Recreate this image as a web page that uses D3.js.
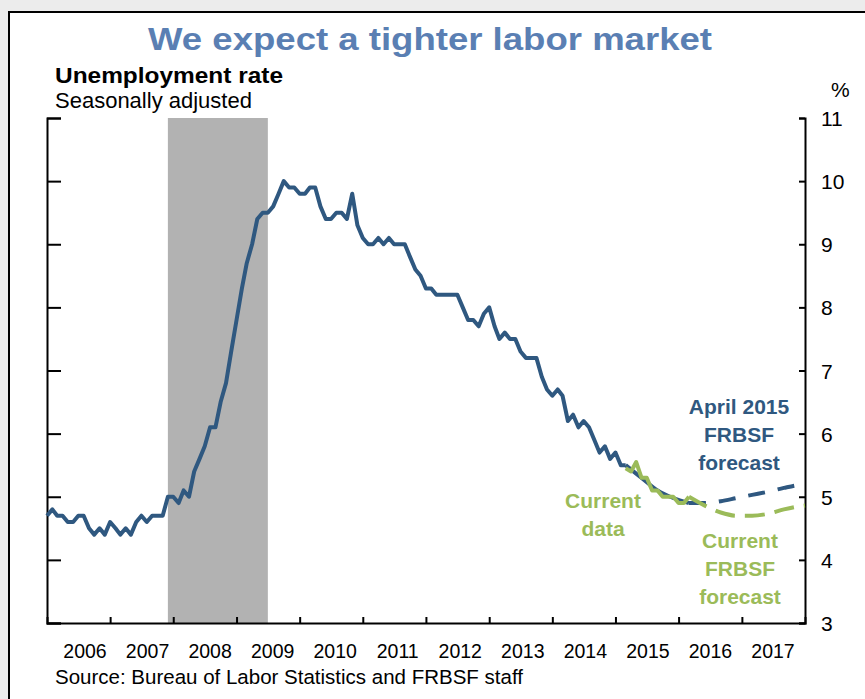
<!DOCTYPE html>
<html>
<head>
<meta charset="utf-8">
<title>We expect a tighter labor market</title>
<script src="https://d3js.org/d3.v7.min.js"></script>
<style>
  body { margin: 0; background: #ececec; }
  svg text { font-family: "Liberation Sans", Arial, sans-serif; }
</style>
</head>
<body>
<div id="chartDiv"></div>
<script>
// ---- data ----
var yearLabels = ["2006","2007","2008","2009","2010","2011","2012","2013","2014","2015","2016","2017"];
var yTicks = [3, 4, 5, 6, 7, 8, 9, 10, 11];

// monthly unemployment rate, Jan 2006 - Mar 2015 (data as of April 2015)
var histStart = "2006-01";
var histRate = [
  4.7, 4.8, 4.7, 4.7, 4.6, 4.6, 4.7, 4.7, 4.5, 4.4, 4.5, 4.4,
  4.6, 4.5, 4.4, 4.5, 4.4, 4.6, 4.7, 4.6, 4.7, 4.7, 4.7, 5.0,
  5.0, 4.9, 5.1, 5.0, 5.4, 5.6, 5.8, 6.1, 6.1, 6.5, 6.8, 7.3,
  7.8, 8.3, 8.7, 9.0, 9.4, 9.5, 9.5, 9.6, 9.8, 10.0, 9.9, 9.9,
  9.8, 9.8, 9.9, 9.9, 9.6, 9.4, 9.4, 9.5, 9.5, 9.4, 9.8, 9.3,
  9.1, 9.0, 9.0, 9.1, 9.0, 9.1, 9.0, 9.0, 9.0, 8.8, 8.6, 8.5,
  8.3, 8.3, 8.2, 8.2, 8.2, 8.2, 8.2, 8.0, 7.8, 7.8, 7.7, 7.9,
  8.0, 7.7, 7.5, 7.6, 7.5, 7.5, 7.3, 7.2, 7.2, 7.2, 6.9, 6.7,
  6.6, 6.7, 6.6, 6.2, 6.3, 6.1, 6.2, 6.1, 5.9, 5.7, 5.8, 5.6,
  5.7, 5.5, 5.5
];

// current data, Mar 2015 - Mar 2016
var currentStart = "2015-03";
var currentRate = [5.45, 5.4, 5.55, 5.3, 5.3, 5.1, 5.1, 5.0, 5.0, 5.0, 4.9, 4.9, 5.0];

// April 2015 FRBSF forecast
var aprilDates = ["2015-03","2015-06","2015-09","2015-12","2016-03","2016-06","2016-09","2016-12","2017-03","2017-06","2017-09","2017-12","2018-01"];
var aprilRate  = [5.5, 5.3, 5.1, 4.98, 4.9, 4.9, 4.93, 4.98, 5.03, 5.08, 5.14, 5.19, 5.2];
var aprilDashFrom = "2016-03";

// current FRBSF forecast
var currentFcstDates = ["2016-03","2016-06","2016-09","2016-12","2017-03","2017-06","2017-09","2017-12","2018-01"];
var currentFcstRate  = [5.0, 4.86, 4.75, 4.7, 4.7, 4.73, 4.8, 4.85, 4.86];

// recession shading
var recession = ["2007-12", "2009-07"];

// ---- layout ----
var W = 865, H = 699;
var plot = {left: 47, right: 805, top: 118, bottom: 623};
var blue = "#2f5880", green = "#9bbb59";

var parseMonth = d3.timeParse("%Y-%m");

var svg = d3.select("#chartDiv").append("svg")
  .attr("width", W).attr("height", H);

// slide frame
svg.append("rect").attr("width", W).attr("height", H).attr("fill", "#ececec");
svg.append("rect")
  .attr("x", 9).attr("y", 12).attr("width", W + 10).attr("height", H)
  .attr("fill", "#fff").attr("stroke", "#000").attr("stroke-width", 2);

var x = d3.scaleTime()
  .domain([parseMonth("2006-01"), parseMonth("2018-01")])
  .range([plot.left, plot.right]);

var y = d3.scaleLinear()
  .domain([3, 11])
  .range([plot.bottom, plot.top]);

// titles
svg.append("text")
  .attr("x", 148).attr("y", 50)
  .attr("textLength", 564).attr("lengthAdjust", "spacingAndGlyphs")
  .style("font-size", "32px").style("font-weight", "bold")
  .style("fill", "#5a7fb3")
  .text("We expect a tighter labor market");

svg.append("text")
  .attr("x", 55).attr("y", 83)
  .attr("textLength", 228).attr("lengthAdjust", "spacingAndGlyphs")
  .style("font-size", "22px").style("font-weight", "bold")
  .text("Unemployment rate");

svg.append("text")
  .attr("x", 55).attr("y", 108)
  .style("font-size", "22px")
  .text("Seasonally adjusted");

svg.append("text")
  .attr("x", 831).attr("y", 97)
  .style("font-size", "21px")
  .text("%");

// recession band
svg.append("rect")
  .attr("x", x(parseMonth(recession[0])))
  .attr("y", plot.top)
  .attr("width", x(parseMonth(recession[1])) - x(parseMonth(recession[0])))
  .attr("height", plot.bottom - plot.top)
  .attr("fill", "#b2b2b2");

// axes
var leftAxis = d3.axisRight(y).tickValues(yTicks).tickSize(14).tickFormat("");
svg.append("g")
  .attr("transform", "translate(" + plot.left + ",0)")
  .call(leftAxis)
  .call(function(g) {
    g.select(".domain").attr("stroke-width", 2);
    g.selectAll(".tick line").attr("stroke-width", 2);
  });

var rightAxis = d3.axisLeft(y).tickValues(yTicks).tickSize(6).tickFormat("");
svg.append("g")
  .attr("transform", "translate(" + plot.right + ",0)")
  .call(rightAxis)
  .call(function(g) {
    g.select(".domain").attr("stroke-width", 2);
    g.selectAll(".tick line").attr("stroke-width", 2);
  });

// right axis labels
svg.append("g").selectAll("text")
  .data(yTicks)
  .enter().append("text")
  .attr("x", 821)
  .attr("y", function(d) { return y(d) + 8; })
  .style("font-size", "21px")
  .text(function(d) { return d; });

var yearTicks = yearLabels.slice(1).map(function(d) { return parseMonth(d + "-01"); });
var bottomAxis = d3.axisTop(x).tickValues(yearTicks).tickSize(6).tickFormat("");
svg.append("g")
  .attr("transform", "translate(0," + plot.bottom + ")")
  .call(bottomAxis)
  .call(function(g) {
    g.select(".domain").attr("stroke-width", 2);
    g.selectAll(".tick line").attr("stroke-width", 2);
  });

// year labels, spaced as in the original slide
var labelX = d3.scalePoint().domain(yearLabels).range([85, 773]);
svg.append("g").selectAll("text")
  .data(yearLabels)
  .enter().append("text")
  .attr("x", function(d) { return labelX(d); })
  .attr("y", 658)
  .attr("text-anchor", "middle")
  .style("font-size", "19.5px")
  .text(function(d) { return d; });

svg.append("text")
  .attr("x", 55).attr("y", 684)
  .style("font-size", "20.5px")
  .text("Source: Bureau of Labor Statistics and FRBSF staff");

// series
function monthly(start, values) {
  var s = parseMonth(start);
  return values.map(function(v, i) { return {date: d3.timeMonth.offset(s, i), value: v}; });
}
function dated(dates, values) {
  return dates.map(function(d, i) { return {date: parseMonth(d), value: values[i]}; });
}

var line = d3.line()
  .x(function(d) { return x(d.date); })
  .y(function(d) { return y(d.value); })
  .curve(d3.curveLinear);

var smooth = d3.line()
  .x(function(d) { return x(d.date); })
  .y(function(d) { return y(d.value); })
  .curve(d3.curveMonotoneX);

var hist = monthly(histStart, histRate);
var april = dated(aprilDates, aprilRate);
var cutoff = parseMonth(aprilDashFrom);
var aprilSolid = april.filter(function(d) { return d.date <= cutoff; });
var aprilDash = april.filter(function(d) { return d.date >= cutoff; });

svg.append("path").datum(hist)
  .attr("d", line)
  .attr("fill", "none").attr("stroke", blue).attr("stroke-width", 4)
  .attr("stroke-linejoin", "round");

svg.append("path").datum(aprilSolid)
  .attr("d", smooth)
  .attr("fill", "none").attr("stroke", blue).attr("stroke-width", 4);

svg.append("path").datum(aprilDash)
  .attr("d", smooth)
  .attr("fill", "none").attr("stroke", blue).attr("stroke-width", 4)
  .attr("stroke-dasharray", "17,13");

svg.append("path").datum(monthly(currentStart, currentRate))
  .attr("d", line)
  .attr("fill", "none").attr("stroke", green).attr("stroke-width", 4)
  .attr("stroke-linejoin", "round");

svg.append("path").datum(dated(currentFcstDates, currentFcstRate))
  .attr("d", smooth)
  .attr("fill", "none").attr("stroke", green).attr("stroke-width", 4)
  .attr("stroke-dasharray", "20,10");

// annotations
function label(lines, cx, y0, color) {
  var t = svg.append("text")
    .attr("text-anchor", "middle")
    .style("font-size", "21px").style("font-weight", "bold")
    .style("fill", color);
  lines.forEach(function(s, i) {
    t.append("tspan").attr("x", cx).attr("y", y0 + i * 28).text(s);
  });
}
label(["April 2015", "FRBSF", "forecast"], 739, 414, blue);
label(["Current", "data"], 603, 508, green);
label(["Current", "FRBSF", "forecast"], 740, 548, green);
</script>
</body>
</html>
